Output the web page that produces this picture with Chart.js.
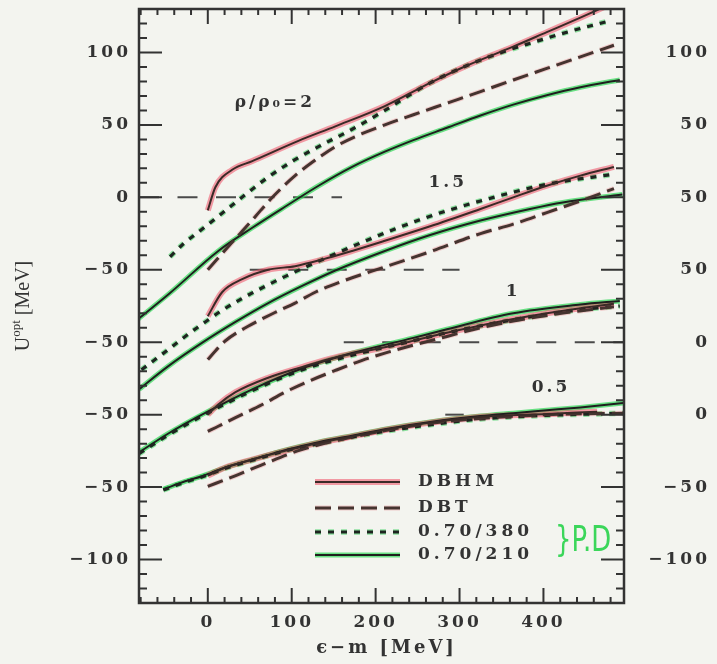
<!DOCTYPE html>
<html lang="en">
<head>
    <meta charset="UTF-8">
    <title>Optical potential vs energy</title>
    <script src="https://cdn.jsdelivr.net/npm/chart.js"></script>
    <style>
        html, body {
            margin: 0;
            padding: 0;
            background-color: #f3f4ef;
        }

        #wrap {
            width: 717px;
            height: 664px;
        }
    </style>
</head>
<body>
    <div id="wrap"><canvas id="potChart" width="717" height="664"></canvas></div>

    <script>
        // panels rho/rho0 = 2, 1.5, 1, 0.5 are stacked, each moved down by its shift (MeV)
        const densities = ['ρ/ρ₀=2', '1.5', '1', '0.5'];
        const panelShift = [0, 50, 100, 150];

        // axes
        const xTicks = [0, 100, 200, 300, 400];
        const yTicks = [100, 50, 0, -50, -100, -150, -200, -250];
        const leftLabels = ['100', '50', '0', '−50', '−50', '−50', '−50', '−100'];
        const rightLabels = ['100', '50', '50', '50', '0', '0', '−50', '−100'];

        // rho/rho0 = 2
        const dbhm2E = [0, 9, 29, 53, 108, 152, 211, 265, 309, 364, 404, 444, 490];
        const dbhm2U = [-9, 7, 19, 25, 39, 49, 63, 79, 91, 104, 114, 124, 136];
        const dbt2E = [0, 29, 51, 63, 77, 89, 104, 124, 152, 176, 211, 245, 285, 325, 364, 404, 444, 484];
        const dbt2U = [-50, -31, -17, -9, 0, 7, 15, 24, 35, 42, 50, 57, 65, 73, 81, 89, 97, 105];
        const p380_2E = [-45, -30, -7, 17, 45, 72, 101, 132, 172, 211, 265, 309, 350, 388, 428, 480];
        const p380_2U = [-41, -32.5, -22, -11, 2, 14, 25, 35, 47, 60, 79, 91, 100, 107, 114, 122];
        const p210_2E = [-83, -45, 12.5, 53, 92, 132, 172, 211, 245, 285, 325, 364, 404, 444, 491];
        const p210_2U = [-84, -66, -37, -21, -6.5, 8, 21, 31.5, 39.5, 48, 56.5, 64, 70.5, 76, 81];

        // rho/rho0 = 1.5
        const dbhm15E = [0, 17, 41, 72, 104, 136, 172, 211, 265, 325, 364, 404, 444, 484];
        const dbhm15U = [-32, -15.5, -6.5, 0, 2.5, 7, 13, 20, 30, 42, 50, 58, 65, 71];
        const dbt15E = [0, 9, 21, 48, 80, 104, 128, 160, 211, 265, 325, 364, 404, 444, 484];
        const dbt15U = [-62, -56, -49, -39, -29.5, -23, -15.5, -8, 2, 12.5, 25, 31.5, 39.5, 47.5, 56];
        const p380_15E = [-79, -47, -27, -3, 17, 45, 68, 89, 146, 205, 265, 325, 404, 484];
        const p380_15U = [-69, -55, -46, -36, -28, -18.5, -11.5, -5.5, 9.5, 24, 37, 47.5, 59, 66];
        const p210_15E = [-82, -47, -7, 33, 72, 113, 152, 211, 265, 325, 384, 423, 494];
        const p210_15U = [-82.5, -66.5, -50.5, -36, -23, -11, -0.5, 13, 24, 34, 42, 46.5, 52];

        // rho/rho0 = 1
        const dbhm1E = [0, 12.5, 33, 72, 113, 152, 211, 245, 285, 325, 364, 404, 444, 484];
        const dbhm1U = [-50, -43, -34.5, -24.5, -17, -10.5, -3.5, 1, 6.5, 11.5, 16, 20, 23.5, 26.5];
        const dbt1E = [0, 12.5, 33, 65, 92, 120, 152, 184, 211, 245, 285, 325, 404, 484];
        const dbt1U = [-61.5, -58, -52, -43, -34.5, -27, -19.5, -12.5, -7.5, -2, 4, 10, 18.5, 24.5];
        const p380_1E = [-82, -47, -7, 53, 113, 172, 245, 285, 364, 444, 491];
        const p380_1U = [-77, -64, -51, -33.5, -19, -9, 1, 6.5, 15.5, 22.5, 25];
        const p210_1E = [-82, -47, -7, 53, 113, 172, 245, 285, 364, 444, 491];
        const p210_1U = [-76, -63, -50, -32.5, -18, -7.5, 3, 9, 20, 26, 28.5];

        // rho/rho0 = 0.5
        const dbhm05E = [0, 21, 53, 92, 132, 172, 211, 265, 325, 404, 464];
        const dbhm05U = [-42, -36.5, -31, -25, -19.5, -15, -10.5, -5.5, -1.5, 0.5, 2];
        const dbt05E = [0, 27, 63, 110, 172, 265, 404, 495];
        const dbt05U = [-49.5, -43.5, -35, -24.5, -15.5, -6, 0, 1];
        const p380_05E = [-53, -27, -7, 21, 53, 92, 132, 172, 211, 265, 325, 404, 495];
        const p380_05U = [-52, -46.5, -43, -37, -31.5, -25, -20, -15.5, -11.5, -7, -3, -0.5, 1];
        const p210_05E = [-53, -27, -7, 21, 53, 92, 132, 172, 211, 265, 325, 364, 404, 444, 495];
        const p210_05U = [-51.5, -46, -42.5, -36.5, -31, -24.5, -19, -14.5, -10, -5, -1, 1, 3, 5, 8];

        // dashed U = 0 guide of each panel (visible part only)
        const zeroFromE = [-82, 50, 162, 283];
        const zeroToE = [160, 300, 496, 305];

        // where the density labels sit (E, U of the panel)
        const labelE = [80, 286, 364, 409];
        const labelU = [65.5, 60, 35, 19];

        const curves = [
            { panel: 0, kind: 'dbhm', e: dbhm2E, u: dbhm2U },
            { panel: 0, kind: 'dbt', e: dbt2E, u: dbt2U },
            { panel: 0, kind: 'p380', e: p380_2E, u: p380_2U },
            { panel: 0, kind: 'p210', e: p210_2E, u: p210_2U },
            { panel: 1, kind: 'dbhm', e: dbhm15E, u: dbhm15U },
            { panel: 1, kind: 'dbt', e: dbt15E, u: dbt15U },
            { panel: 1, kind: 'p380', e: p380_15E, u: p380_15U },
            { panel: 1, kind: 'p210', e: p210_15E, u: p210_15U },
            { panel: 2, kind: 'dbhm', e: dbhm1E, u: dbhm1U },
            { panel: 2, kind: 'dbt', e: dbt1E, u: dbt1U },
            { panel: 2, kind: 'p380', e: p380_1E, u: p380_1U },
            { panel: 2, kind: 'p210', e: p210_1E, u: p210_1U },
            { panel: 3, kind: 'dbhm', e: dbhm05E, u: dbhm05U },
            { panel: 3, kind: 'dbt', e: dbt05E, u: dbt05U },
            { panel: 3, kind: 'p380', e: p380_05E, u: p380_05U },
            { panel: 3, kind: 'p210', e: p210_05E, u: p210_05U }
        ];

        const ink = '#333333';
        const paper = '#f3f4ef';

        // dark printed line + hand coloured halo underneath
        const styles = {
            dbhm: { name: 'DBHM', ink: '#3a2a27', inkW: 2, halo: 'rgba(238, 78, 100, 0.55)', haloW: 6, dash: [] },
            dbt: { name: 'DBT', ink: '#45332f', inkW: 3, halo: 'rgba(225, 95, 105, 0.28)', haloW: 5, dash: [16, 7] },
            p380: { name: '0.70/380', ink: '#1e2420', inkW: 3.2, halo: 'rgba(40, 205, 80, 0.5)', haloW: 5.5, dash: [6, 7] },
            p210: { name: '0.70/210', ink: '#1f1f1f', inkW: 2, halo: 'rgba(45, 215, 85, 0.7)', haloW: 5, dash: [] }
        };

        const lineBase = {
            pointRadius: 0,
            fill: false,
            cubicInterpolationMode: 'monotone',
            borderCapStyle: 'butt',
            borderJoinStyle: 'round'
        };

        function toPoints(e, u, shift) {
            return e.map((v, i) => ({ x: v, y: u[i] - shift }));
        }

        const datasets = [];
        curves.forEach(c => {
            const st = styles[c.kind];
            const shift = panelShift[c.panel];
            datasets.push(Object.assign({}, lineBase, {
                label: st.name + ' halo',
                data: toPoints(c.e, c.u, shift),
                borderColor: st.halo,
                borderWidth: st.haloW,
                borderDash: st.dash,
                order: 2
            }));
            datasets.push(Object.assign({}, lineBase, {
                label: st.name,
                data: toPoints(c.e, c.u, shift),
                borderColor: st.ink,
                borderWidth: st.inkW,
                borderDash: st.dash,
                order: 1
            }));
        });
        panelShift.forEach((shift, i) => {
            datasets.push(Object.assign({}, lineBase, {
                label: 'U=0',
                data: [{ x: zeroFromE[i], y: -shift }, { x: zeroToE[i], y: -shift }],
                borderColor: '#4a4a4a',
                borderWidth: 2,
                borderDash: [20, 18.5],
                order: 3
            }));
        });

        const tickFont = { family: 'DejaVu Serif', size: 17, weight: 'bold' };

        // frame, inward ticks, titles, panel labels, legend
        const decor = {
            id: 'decor',
            beforeDraw(chart) {
                const ctx = chart.ctx;
                ctx.save();
                ctx.fillStyle = paper;
                ctx.fillRect(0, 0, chart.width, chart.height);
                ctx.restore();
                ctx.letterSpacing = '3px';
            },
            afterDraw(chart) {
                const { ctx, chartArea: a, scales } = chart;
                const sx = scales.x, sy = scales.y;
                ctx.save();
                ctx.letterSpacing = '0px';
                ctx.strokeStyle = ink;
                ctx.setLineDash([]);

                ctx.lineWidth = 2;
                ctx.beginPath();
                for (let v = -270; v <= 120; v += 10) {
                    const py = sy.getPixelForValue(v);
                    const len = v % 50 === 0 ? 23 : 8;
                    ctx.moveTo(a.left, py); ctx.lineTo(a.left + len, py);
                    ctx.moveTo(a.right, py); ctx.lineTo(a.right - len, py);
                }
                for (let v = -80; v <= 480; v += 20) {
                    const px = sx.getPixelForValue(v);
                    const len = v % 100 === 0 ? 15 : 6;
                    ctx.moveTo(px, a.bottom); ctx.lineTo(px, a.bottom - len);
                    ctx.moveTo(px, a.top); ctx.lineTo(px, a.top + len);
                }
                ctx.stroke();
                ctx.lineWidth = 2.5;
                ctx.strokeRect(a.left, a.top, a.right - a.left, a.bottom - a.top);

                ctx.fillStyle = ink;

                // y title with superscript
                ctx.save();
                ctx.translate(24, (a.top + a.bottom) / 2);
                ctx.rotate(-Math.PI / 2);
                ctx.textBaseline = 'middle';
                ctx.textAlign = 'left';
                ctx.font = '20px "Liberation Serif"';
                const wU = ctx.measureText('U').width;
                const wRest = ctx.measureText(' [MeV]').width;
                ctx.font = '13px "Liberation Serif"';
                const wSup = ctx.measureText('opt').width;
                const x0 = -(wU + wSup + wRest) / 2;
                ctx.font = '20px "Liberation Serif"';
                ctx.fillText('U', x0, 0);
                ctx.font = '13px "Liberation Serif"';
                ctx.fillText('opt', x0 + wU, -7);
                ctx.font = '20px "Liberation Serif"';
                ctx.fillText(' [MeV]', x0 + wU + wSup, 0);
                ctx.restore();

                // x title
                ctx.font = 'bold 18px "DejaVu Serif"';
                ctx.letterSpacing = '3px';
                ctx.textAlign = 'center';
                ctx.textBaseline = 'middle';
                ctx.fillText('ϵ−m [MeV]', (a.left + a.right) / 2 + 5, 648);

                // density labels
                ctx.font = 'bold 17px "DejaVu Serif"';
                ctx.letterSpacing = '3px';
                densities.forEach((t, i) => {
                    ctx.fillText(t, sx.getPixelForValue(labelE[i]), sy.getPixelForValue(labelU[i] - panelShift[i]));
                });

                // legend
                const rows = ['dbhm', 'dbt', 'p380', 'p210'];
                const rowY = [482, 508, 532, 555];
                rows.forEach((k, i) => {
                    const st = styles[k];
                    ctx.setLineDash(st.dash);
                    ctx.lineCap = 'butt';
                    ctx.strokeStyle = st.halo;
                    ctx.lineWidth = st.haloW;
                    ctx.beginPath(); ctx.moveTo(315, rowY[i]); ctx.lineTo(400, rowY[i]); ctx.stroke();
                    ctx.strokeStyle = st.ink;
                    ctx.lineWidth = st.inkW;
                    ctx.beginPath(); ctx.moveTo(315, rowY[i]); ctx.lineTo(400, rowY[i]); ctx.stroke();
                    ctx.setLineDash([]);
                    ctx.fillStyle = ink;
                    ctx.font = 'bold 17px "DejaVu Serif"';
                    ctx.letterSpacing = '4px';
                    ctx.textAlign = 'left';
                    ctx.fillText(st.name, 418, rowY[i]);
                });

                // hand written note
                ctx.save();
                ctx.letterSpacing = '0px';
                ctx.translate(555, 551);
                ctx.scale(0.72, 1);
                ctx.font = '36px "DejaVu Sans"';
                ctx.fillStyle = '#3bd65a';
                ctx.textAlign = 'left';
                ctx.textBaseline = 'alphabetic';
                ctx.fillText('}P.D', 0, 0);
                ctx.restore();

                ctx.restore();
            }
        };

        new Chart(document.getElementById('potChart'), {
            type: 'line',
            data: { datasets: datasets },
            plugins: [decor],
            options: {
                responsive: false,
                animation: false,
                devicePixelRatio: 1,
                layout: { padding: { top: 9, right: 7, left: 0, bottom: 0 } },
                plugins: {
                    legend: { display: false },
                    tooltip: { enabled: false }
                },
                scales: {
                    x: {
                        type: 'linear',
                        position: 'bottom',
                        min: -82,
                        max: 496,
                        grid: { display: false, drawTicks: false },
                        border: { display: false },
                        afterBuildTicks: s => { s.ticks = xTicks.map(v => ({ value: v })); },
                        afterFit: s => { s.height = 61; s.paddingLeft = 0; s.paddingRight = 0; },
                        ticks: {
                            autoSkip: false,
                            maxRotation: 0,
                            padding: 9,
                            color: ink,
                            font: tickFont,
                            callback: v => String(v)
                        }
                    },
                    y: {
                        type: 'linear',
                        position: 'left',
                        min: -280,
                        max: 130,
                        grid: { display: false, drawTicks: false },
                        border: { display: false },
                        afterBuildTicks: s => { s.ticks = yTicks.map(v => ({ value: v })); },
                        afterFit: s => { s.width = 139; s.paddingTop = 0; s.paddingBottom = 0; },
                        ticks: {
                            autoSkip: false,
                            padding: 8,
                            color: ink,
                            font: tickFont,
                            callback: v => leftLabels[yTicks.indexOf(v)]
                        }
                    },
                    y2: {
                        type: 'linear',
                        position: 'right',
                        min: -280,
                        max: 130,
                        grid: { display: false, drawTicks: false },
                        border: { display: false },
                        afterBuildTicks: s => { s.ticks = yTicks.map(v => ({ value: v })); },
                        afterFit: s => { s.width = 86; s.paddingTop = 0; s.paddingBottom = 0; },
                        ticks: {
                            autoSkip: false,
                            crossAlign: 'far',
                            color: ink,
                            font: tickFont,
                            callback: v => rightLabels[yTicks.indexOf(v)]
                        }
                    }
                }
            }
        });
    </script>
</body>
</html>
